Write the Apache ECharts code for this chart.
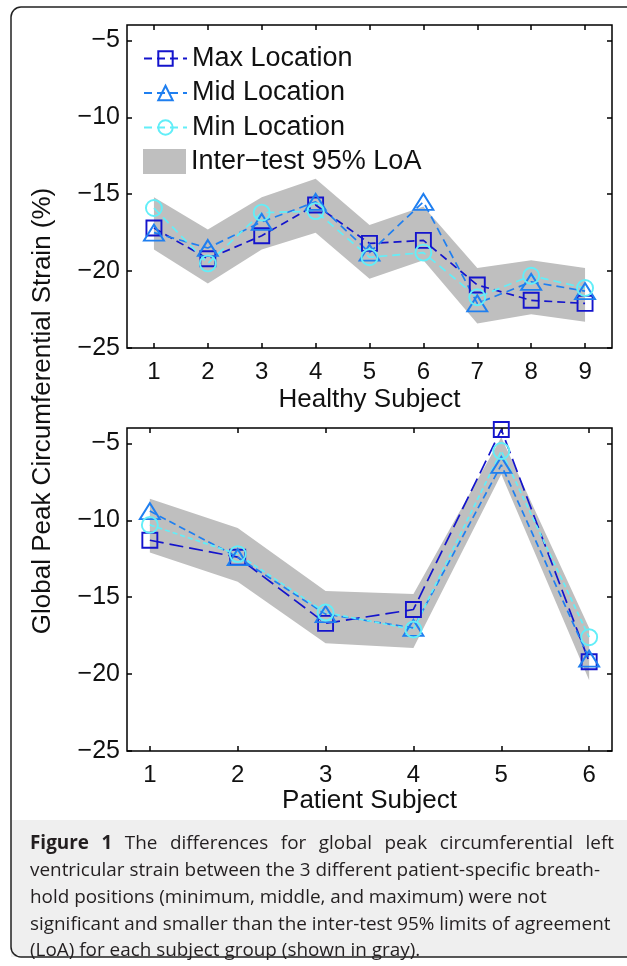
<!DOCTYPE html>
<html>
<head>
<meta charset="utf-8">
<script src="https://cdn.jsdelivr.net/npm/echarts@6/dist/echarts.min.js"></script>
<style>
html, body { margin: 0; padding: 0; background: #fff; }
#main { width: 627px; height: 966px; }
</style>
</head>
<body>
<div id="main"></div>
<script>
// healthy subjects (top panel)
var healthyX = [1, 2, 3, 4, 5, 6, 7, 8, 9];
var healthyMax = [-17.2, -19.2, -17.7, -15.7, -18.2, -18.0, -20.9, -21.9, -22.1];
var healthyMid = [-17.5, -18.5, -16.8, -15.5, -18.8, -15.5, -22.1, -20.7, -21.3];
var healthyMin = [-15.9, -19.5, -16.2, -16.1, -19.1, -18.8, -21.7, -20.3, -21.1];
var healthyLoaHi = [-15.2, -17.3, -15.2, -14.0, -17.0, -15.8, -19.8, -19.3, -19.8];
var healthyLoaLo = [-18.6, -20.8, -18.6, -17.5, -20.5, -19.3, -23.4, -22.8, -23.3];

// patients (bottom panel)
var patientX = [1, 2, 3, 4, 5, 6];
var patientMax = [-11.3, -12.4, -16.7, -15.8, -4.1, -19.2];
var patientMid = [-9.4, -12.4, -16.1, -17.0, -6.4, -19.0];
var patientMin = [-10.3, -12.2, -16.0, -17.1, -5.5, -17.6];
var patientLoaHi = [-8.6, -10.5, -14.6, -14.8, -4.6, -17.0];
var patientLoaLo = [-12.1, -14.0, -18.0, -18.3, -7.0, -20.4];

var yTicks = [-25, -20, -15, -10, -5];

var captionLines = [
    'ventricular strain between the 3 different patient-specific breath-',
    'hold positions (minimum, middle, and maximum) were not',
    'significant and smaller than the inter-test 95% limits of agreement',
    '(LoA) for each subject group (shown in gray).'
];
var captionFirst = 'The differences for global peak circumferential left';

var cMax = '#1414cc', cMid = '#1f7ff0', cMin = '#62eef8', cBand = '#bfbfbf';
var font = 'Liberation Sans';
var bandName = 'Inter\u2212test 95% LoA';

var chart = echarts.init(document.getElementById('main'));

function pairs(xs, ys) {
    return xs.map(function (x, i) { return [x, ys[i]]; });
}

function minus(v) {
    return String(v).replace('-', '\u2212');
}

function lineSeries(name, g, xs, ys, color, symbol, size, dash) {
    return {
        name: name,
        type: 'line',
        xAxisIndex: g * 2,
        yAxisIndex: g * 2,
        data: pairs(xs, ys),
        symbol: symbol,
        symbolSize: size,
        showAllSymbol: true,
        lineStyle: { color: color, width: 1.7, type: dash },
        itemStyle: { color: 'rgba(0,0,0,0)', borderColor: color, borderWidth: 1.9 },
        emphasis: { disabled: true },
        z: 3
    };
}

function bandSeries(g, xs, hi, lo) {
    return {
        name: bandName,
        type: 'custom',
        xAxisIndex: g * 2,
        yAxisIndex: g * 2,
        data: xs.map(function (x, i) { return [x, hi[i], lo[i]]; }),
        encode: { x: 0, y: [1, 2] },
        itemStyle: { color: cBand },
        renderItem: function (params, api) {
            if (params.dataIndex !== 0) return;
            var top = [], bot = [];
            for (var i = 0; i < xs.length; i++) {
                top.push(api.coord([xs[i], hi[i]]));
                bot.unshift(api.coord([xs[i], lo[i]]));
            }
            return { type: 'polygon', shape: { points: top.concat(bot) }, style: { fill: cBand } };
        },
        z: 1
    };
}

function xAxes(g, min, max, ticks, name, gap) {
    var tickStyle = { show: true, inside: true, length: 5, customValues: ticks, lineStyle: { color: '#000', width: 1.5 } };
    return [{
        gridIndex: g, type: 'value', min: min, max: max, position: 'bottom',
        name: name, nameLocation: 'middle', nameGap: gap,
        nameTextStyle: { fontSize: 26, fontFamily: font, color: '#111' },
        axisLine: { show: false }, splitLine: { show: false },
        axisTick: tickStyle,
        axisLabel: { customValues: ticks, fontSize: 24, fontFamily: font, color: '#111', margin: 12 }
    }, {
        gridIndex: g, type: 'value', min: min, max: max, position: 'top',
        axisLine: { show: false }, splitLine: { show: false },
        axisTick: tickStyle,
        axisLabel: { show: false, customValues: ticks }
    }];
}

function yAxes(g) {
    var tickStyle = { show: true, inside: true, length: 5, customValues: yTicks, lineStyle: { color: '#000', width: 1.5 } };
    return [{
        gridIndex: g, type: 'value', min: -25, max: -4, position: 'left',
        axisLine: { show: false }, splitLine: { show: false },
        axisTick: tickStyle,
        axisLabel: { customValues: yTicks, fontSize: 25, fontFamily: font, color: '#111', margin: 7, formatter: minus }
    }, {
        gridIndex: g, type: 'value', min: -25, max: -4, position: 'right',
        axisLine: { show: false }, splitLine: { show: false },
        axisTick: tickStyle,
        axisLabel: { show: false, customValues: yTicks }
    }];
}

// caption first line is justified, so lay its words out one by one
var ctx = document.createElement('canvas').getContext('2d');
var capFont = '18.9px "Open Sans"';
var capBold = 'bold 18.9px "Open Sans"';
var words = [{ t: 'Figure', b: true }, { t: '1', b: true }].concat(
    captionFirst.split(' ').map(function (w) { return { t: w, b: false }; }));
var total = 0;
words.forEach(function (w) {
    ctx.font = w.b ? capBold : capFont;
    w.w = ctx.measureText(w.t).width;
    total += w.w;
});
var gapW = (614 - 30 - total) / (words.length - 1);
var graphics = [
    { type: 'rect', z: -10, shape: { x: 11, y: 820, width: 640, height: 137 }, style: { fill: '#efefef' } },
    { type: 'rect', z: 50, shape: { x: 11, y: 7, width: 660, height: 950, r: 10 }, style: { fill: null, stroke: '#222', lineWidth: 1.5 } },
    { type: 'text', z: 50, x: 43, y: 411, rotation: Math.PI / 2,
      style: { text: 'Global Peak Circumferential Strain (%)', font: '26px "' + font + '"', fill: '#111', align: 'center', verticalAlign: 'middle' } }
];
var cx = 30;
words.forEach(function (w) {
    graphics.push({ type: 'text', z: 50, x: cx, y: 844,
        style: { text: w.t, font: w.b ? capBold : capFont, fill: '#231f20', align: 'left', verticalAlign: 'middle' } });
    cx += w.w + gapW;
});
captionLines.forEach(function (line, i) {
    graphics.push({ type: 'text', z: 50, x: 30, y: 871 + i * 26.7,
        style: { text: line, font: capFont, fill: '#231f20', align: 'left', verticalAlign: 'middle' } });
});

var option = {
    backgroundColor: '#fff',
    animation: false,
    grid: [
        { left: 127, top: 25, width: 485, height: 323, show: true, borderColor: '#000', borderWidth: 1.5, backgroundColor: '#fff' },
        { left: 127, top: 428, width: 485, height: 323, show: true, borderColor: '#000', borderWidth: 1.5, backgroundColor: '#fff' }
    ],
    legend: [{
        orient: 'vertical', left: 143, top: 45, padding: 0, itemWidth: 43, itemHeight: 18, itemGap: 7.5,
        textStyle: { fontSize: 27, fontFamily: font, color: '#111' },
        data: ['Max Location', 'Mid Location', 'Min Location']
    }, {
        orient: 'vertical', left: 143, top: 148, padding: 0, itemWidth: 43, itemHeight: 25,
        textStyle: { fontSize: 27, fontFamily: font, color: '#111' },
        data: [{ name: bandName, icon: 'rect' }]
    }],
    xAxis: xAxes(0, 0.5, 9.5, healthyX, 'Healthy Subject', 39).concat(
        xAxes(1, 0.74, 6.26, patientX, 'Patient Subject', 36)),
    yAxis: yAxes(0).concat(yAxes(1)),
    series: [
        bandSeries(0, healthyX, healthyLoaHi, healthyLoaLo),
        lineSeries('Max Location', 0, healthyX, healthyMax, cMax, 'rect', 15, [8, 5]),
        lineSeries('Mid Location', 0, healthyX, healthyMid, cMid, 'triangle', [20, 16], [8, 5]),
        lineSeries('Min Location', 0, healthyX, healthyMin, cMin, 'circle', 16, [8, 5]),
        bandSeries(1, patientX, patientLoaHi, patientLoaLo),
        lineSeries('Max Location', 1, patientX, patientMax, cMax, 'rect', 15, [14, 6]),
        lineSeries('Mid Location', 1, patientX, patientMid, cMid, 'triangle', [20, 16], [7, 4]),
        lineSeries('Min Location', 1, patientX, patientMin, cMin, 'circle', 16, [5, 3])
    ],
    graphic: graphics
};

chart.setOption(option);
</script>
</body>
</html>
